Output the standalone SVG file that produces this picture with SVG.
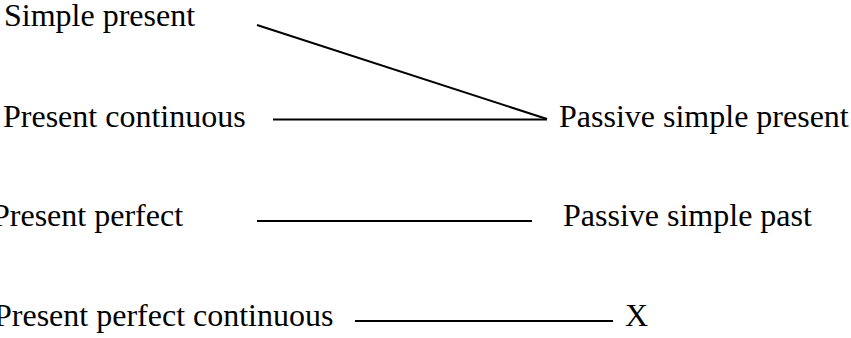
<svg xmlns="http://www.w3.org/2000/svg" width="851" height="338" viewBox="0 0 851 338">
  <style>
    .label { font-family: "Liberation Serif", "Times New Roman", serif; font-size: 32px; fill: #000; }
    .link { stroke: #000; stroke-width: 2; fill: none; }
  </style>
  <rect width="851" height="338" fill="#fff"/>
  <g id="simple-present"><text class="label" x="4" y="26">Simple present</text></g>
  <g id="present-continuous"><text class="label" x="3" y="127">Present continuous</text></g>
  <g id="present-perfect"><text class="label" x="-8" y="226">Present perfect</text></g>
  <g id="present-perfect-continuous"><text class="label" x="-6" y="326">Present perfect continuous</text></g>
  <g id="passive-simple-present"><text class="label" x="559" y="127">Passive simple present</text></g>
  <g id="passive-simple-past"><text class="label" x="563" y="226">Passive simple past</text></g>
  <g id="x-node"><text class="label" x="625" y="326">X</text></g>
  <g id="connectors">
    <line class="link" x1="257" y1="25" x2="547" y2="119"/>
    <line class="link" x1="273" y1="119.5" x2="547" y2="119.5"/>
    <line class="link" x1="257" y1="221" x2="532" y2="221"/>
    <line class="link" x1="355" y1="321" x2="613" y2="321"/>
  </g>
</svg>
